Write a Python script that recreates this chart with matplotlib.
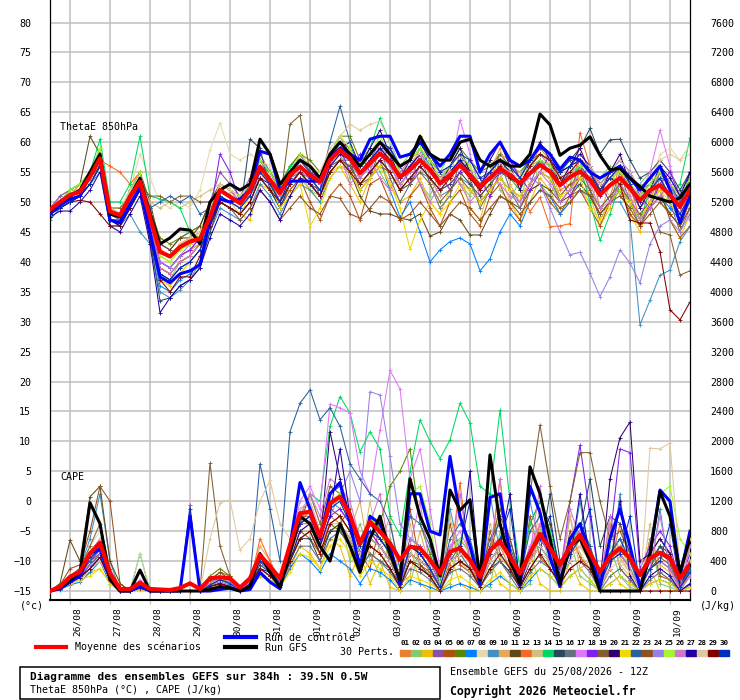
import numpy as np
import matplotlib
matplotlib.use("Agg")
import matplotlib.pyplot as plt
from matplotlib.transforms import ScaledTranslation
from matplotlib.patches import Rectangle
from matplotlib.lines import Line2D

plt.rcParams['font.family'] = ['DejaVu Sans Mono', 'DejaVu Sans']

# time axis: GEFS run 25/08 12Z, every 6h up to 384h
hours = np.arange(0, 385, 6)
day_ticks = np.arange(12, 384, 24)
day_labels = ['26/08', '27/08', '28/08', '29/08', '30/08', '31/08', '01/09', '02/09',
              '03/09', '04/09', '05/09', '06/09', '07/09', '08/09', '09/09', '10/09']

member_colors = ['#e88030', '#88c870', '#f0c000', '#8850a8', '#b05010', '#588800',
                 '#0080ff', '#e8d8b0', '#4090c0', '#e8a858', '#604818', '#f86820',
                 '#d0c080', '#00d860', '#284860', '#687078', '#e078f8', '#8020f0',
                 '#806030', '#300070', '#f0d800', '#2860a0', '#905020', '#9880e8',
                 '#a0f830', '#d078d0', '#2000a0', '#e0c8a0', '#800000', '#0030c0']

# ThetaE 850hPa (degC)
theta_mean = [48.7, 50.0, 51.2, 51.7, 54.2, 57.3, 48.4, 47.8, 50.9, 53.4,
              47.5, 41.7, 40.9, 42.5, 43.4, 43.9, 47.5, 52.0, 50.9, 49.8,
              52.0, 55.9, 53.7, 51.5, 54.5, 55.9, 54.5, 53.4, 57.0, 58.7,
              57.3, 54.8, 56.5, 58.1, 56.7, 54.2, 55.4, 57.0, 55.4, 53.1,
              54.5, 56.2, 54.5, 52.6, 54.0, 55.6, 54.5, 53.1, 54.8, 56.2,
              55.1, 52.8, 54.2, 55.1, 53.7, 51.2, 52.8, 54.0, 52.3, 50.3,
              52.0, 52.8, 51.2, 49.2, 52.0]
theta_ctrl = [48.0, 49.5, 50.5, 51.0, 54.5, 57.5, 47.0, 46.5, 49.5, 52.5,
              45.0, 37.5, 36.5, 38.0, 38.5, 39.5, 47.0, 50.5, 50.0, 50.5,
              52.0, 58.5, 58.0, 52.0, 53.5, 53.5, 53.5, 53.5, 57.5, 59.0,
              58.0, 57.0, 60.5, 61.0, 61.0, 57.5, 58.0, 60.0, 58.0, 56.0,
              58.0, 61.0, 61.0, 55.0, 58.0, 60.0, 57.0, 56.0, 57.0, 59.5,
              58.0, 55.5, 57.5, 57.0, 55.0, 54.0, 55.0, 56.0, 54.0, 52.0,
              54.0, 56.0, 52.0, 46.5, 51.0]
theta_gfs = [48.5, 50.0, 51.0, 52.0, 55.0, 58.0, 48.0, 47.5, 51.0, 54.0,
             48.0, 43.0, 44.0, 45.5, 45.3, 43.0, 50.0, 52.0, 53.0, 52.0,
             53.0, 60.5, 58.0, 53.0, 55.0, 57.0, 56.0, 54.0, 58.0, 60.0,
             58.0, 56.0, 58.0, 60.0, 58.0, 56.0, 57.0, 61.0, 58.0, 57.0,
             57.0, 60.0, 60.5, 57.0, 56.0, 57.0, 56.0, 56.0, 58.0, 64.7,
             62.9, 57.8, 59.0, 59.5, 60.9, 57.8, 55.4, 55.6, 54.0, 52.6,
             51.0, 50.5, 50.0, 50.7, 53.0]
theta_perts = [
    "48 50 51 53 55 58 49 48 51 54 | 46 40 39 41 42 43 48 53 52 50 | 53 57 54 50 54 58 56 53 58 61 | 58 54 56 59 58 53 55 59 57 52 | 53 58 56 51 53 58 57 54 56 59 | 57 52 53 57 56 49 51 56 53 47 | 50 55 52 46 50",
    "48 51 52 52 55 59 48 47 50 53 | 46 38 37 40 41 43 47 51 50 49 | 51 55 53 50 53 55 52 51 56 59 | 54 57 59 55 52 56 58 53 51 55 | 58 53 51 55 57 52 50 54 58 53 | 51 55 57 52 50 54 56 51 49 53 | 55 50 48 52 54",
    "48 50 50 51 53 56 47 47 50 52 | 45 37 36 38 40 42 46 50 49 48 | 47 53 52 49 52 54 52 50 55 56 | 53 50 54 57 53 50 51 54 50 48 | 52 55 49 47 53 55 50 47 50 54 | 52 48 50 55 51 46 49 54 48 45 | 50 53 47 44 48",
    "49 51 52 53 55 58 49 48 52 55 | 49 43 42 44 45 46 50 55 53 51 | 54 58 55 52 56 58 55 54 58 60 | 59 56 57 60 59 55 56 57 55 54 | 56 58 55 52 55 58 56 54 57 58 | 56 53 56 57 55 52 55 56 52 49 | 51 55 53 50 54",
    "48 50 51 52 54 56 48 47 51 53 | 47 40 39 41 42 44 48 52 51 50 | 52 55 53 49 52 54 50 47 51 53 | 51 47 53 54 50 47 51 53 49 46 | 50 52 48 46 51 53 49 47 52 53 | 50 48 51 52 49 46 50 52 48 46 | 50 52 47 44 46",
    "48 50 51 52 54 58 48 48 51 54 | 49 44 43 44 45 46 50 53 52 51 | 53 56 55 53 56 58 57 55 58 61 | 61 57 58 60 59 56 57 61 57 55 | 56 59 57 55 56 58 56 55 57 58 | 57 55 56 57 56 53 55 56 54 52 | 53 55 53 51 54",
    "47 49 50 51 53 56 47 46 49 52 | 44 36 35 37 38 40 46 50 49 48 | 50 54 52 49 53 55 54 52 56 57 | 56 53 55 57 52 47.5 50 45 40 42 | 43.4 44 43 38.5 40.5 45 48 46 50 52 | 51 48 50 52 51 48 50 52 50 47 | 49 51 49 47 50",
    "48 50 51 52 54 57 49 49 52 58 | 54 50 49 50 49 52 58.7 63.2 58 57 | 58 57 56 52 55 57 56 54 57 59 | 58 56 57 59 58 55 56 58 57 54 | 55 57 56 53 55 57 55 53 56 57 | 56 53 55 57 55 52 54 56 53 51 | 53 58 59 57 58",
    "48 49 50 51 53 55 46 46 48 45 | 43 35 34 35.3 37 40 45 49 48 47 | 49 53 51 48 51 53 52 50 54 56 | 55 52 54 56 55 52 53 55 54 51 | 52 54 53 50 52 54 52 50 53 55 | 54 50 52 53 51 48 50 50 47 29.5 | 33.6 37.8 38.6 43.4 45.9",
    "49 50 51 52 54 57 48 48 51 53 | 47 41 40 42 43 44 48 51 50 49 | 51 55 53 51 54 56 54 52 57 58 | 59 53 55 60 57 52 56 59 54 51 | 56 58 53 50 55 59 53 50 56 58 | 56 51 53 57 52 48 53 56 51 47 | 52 55 50 47 53",
    "49 50 52 53 61 58 49 48 52 55 | 50 43 42 44 44 46 50 53 52 50 | 52 55 53 50 53 55 53 52 55 57 | 55 51 48.5 48 48 47.3 47 48 44.3 45 | 48 47 44.5 44.5 48 51 50 49 52 53 | 52 50 51 53 51 48 50 52 50 47 | 49 51 48 46 49",
    "48 50 51 52 54 57 56 55 53 55 | 48 42 41 43 44 45 49 52 51 50 | 52 56 54 52 55 57 55 53 57 59 | 57 54 56 58 56 53 55 57 55 53 | 54 56 54 52 54 56 54 52 48.4 50.8 | 45.9 46 46.4 61.6 56 52 54 55 52 50 | 52 53 51 48 51",
    "49 50 51 52 54 56 48 48 51 53 | 50 49 50 49 50 51 52 53 52 51 | 53 55 53 51 54 55 54 53 56 58 | 55 57 54 56 58 55 53 55 57 54 | 52 54 57 54 52 54 56 55 53 55 | 57 55 52 54 56 53 51 53 55 52 | 50 52 54 51 50",
    "48 50 52 53 55 60.5 50 50 53 61 | 51 50.5 50 49 45 44 47 51 50 49 | 51 56 55 52 56 57 55 53 57 60 | 58 56 59 64 60 56 57 59 56 53 | 55 57 55 53 54 56 54 52 55 57 | 55 53 54 56 50 43.6 48 53 50 47 | 52 54 51 53 60.7",
    "48 49 50 51 53 56 47 46 49 52 | 44 33.5 34 36 37 39 45 50 49 48 | 60.5 59 52 49 53 55 53 51 55 57 | 56 53 55 57 55 52 54 56 54 52 | 53 55 53 51 53 55 54 53 56 58 | 57 55 57 59 62.3 58 60.4 60.5 57 54 | 55 57 55 52 55",
    "48 50 51 52 54 57 48 47 50 53 | 46 39 38 40 41 43 47 51 50 49 | 52 55 53 51 54 55 53 52 56 57 | 57 52 54 59 54 50 53 58 53 49 | 51 57 54 49 52 57 52 49 53 57 | 55 50 52 56 52 47 50 55 50 46 | 49 54 50 45 49",
    "49 50 51 52 55 58 49 48 51 54 | 47 40 39 41 42 44 49 53 52 50 | 53 57 55 52 55 57 55 53 58 60 | 58 55 57 59 58 54 56 58 56 53 | 55 63.7 58 52 54 56 55 53 56 57 | 56 53 55 56 54 52 54 56 53 51 | 55 62 56 50 53",
    "48 50 51 52 54 57 48 47 50 53 | 47 40 39 41 42 44 48 58 55 50 | 52 56 54 52 55 57 55 54 57 59 | 55 58 55 57 59 56 53 56 58 55 | 52 55 57 54 51 55 57 54 52 55 | 58 54 51 54 56 53 50 53 55 51 | 49 53 55 51 50",
    "49 50 51 52 54 56 49 49 51 53 | 51 51 50 51 51 50 50 52 51 50 | 51 54 52 50 63 64.5 55 51 55 57 | 56 53 54 56 55 52 53 55 53 50 | 52 54 52 50 52 54 52 51 53 55 | 54 51 53 54 52 49 51 53 50 48 | 50 45 44.5 37.8 38.5",
    "48 49 50 51 53 56 47 46 49 52 | 45 38 37 39 40 42 46 50 49 48 | 50 54 53 50 53 55 54 53 57 59 | 60 56 59 62 58 54 57 60 57 53 | 56 59 55 52 57 60 56 52 57 60 | 57 53 56 59 55 51 55 58 53 49 | 52 56 53 49 55",
    "48 50 51 52 54 57 48 47 50 53 | 46 39 38 40 41 43 47 51 50 48 | 51 55 53 49 51 53 45.9 49 54 56 | 55 52 54 56 53 49 42.1 47 50 48 | 50 53 52 50 52 54 52 51 53 55 | 54 51 52 54 49 47 50 52 50 47 | 50 52 50 47 51",
    "48 49 51 52 54 57 48 47 50 53 | 49 50 51 50 51 48 49 52 51 50 | 53 57 55 52 55 57 55 53 60 66 | 60 55 57 59 57 54 56 58 56 53 | 55 57 55 53 55 57 55 53 55 57 | 56 53 55 56 54 52 54 56 53 51 | 53 55 53 50 53",
    "48 50 51 52 55 58 49 48 51 53 | 46 39 38 40 41 43 47 50 49 47 | 49 52 50 47 49 51 49 48 51 50.6 | 48 47.3 49 51 50 47 48 50 48 46 | 48 50 49 47 49 51 50 48 50 52 | 51 49 50 52 51 48 50 51 49 46 | 48 50 48 46 49",
    "48 50 51 52 54 57 48 48 51 53 | 47 40 39 41 43 44 48 52 51 50 | 52 56 54 51 54 56 54 53 57 59 | 57 54 56 58 56 53 55 57 55 53 | 54 56 54 52 54 56 55 53 54 53 | 49 45 41.2 41.6 38.1 34.2 37.5 42 39.8 36.5 | 43 46 47 45 48",
    "48 50 52 53 55 59 49 48 52 55 | 48 41 40 42 43 45 49 53 52 51 | 53 57 55 52 55 58 56 54 58 61 | 59 56 58 61 58 55 57 59 57 54 | 56 58 56 53 55 57 55 54 56 57 | 56 54 55 56 55 52 54 55 53 51 | 53 55 53 51 54",
    "48 50 51 52 54 57 48 47 50 53 | 46 39 38 40 41 43 47 51 50 49 | 51 55 53 50 53 55 54 52 56 58 | 53 55 57 54 52 55 57 53 50 53 | 55 53 50 52 55 53 51 50 53 55 | 53 50 52 55 53 49 50 53 51 47 | 49 51 53 49 47",
    "47.5 48.5 48.5 50 52 55 46 45 48 51 | 43 31.5 34 36 37 39 44 48 47 46 | 48 52 50 47 51 54 53 51 56 58 | 57 55 57 59 57 54 56 58 56 54 | 55 57 55 53 55 57 55 53 56 58 | 57 55 56 58 56 53 55 57 55 52 | 54 56 54 51 55",
    "49 50 51 52 54 57 49 48 52 54 | 48 42 41 43 44 45 49 53 52 51 | 53 56 54 52 55 57 56 55 59 61 | 63 62 63 63.5 60 56 57 58 56 54 | 55 56 55 53 54 56 55 54 56 58 | 57 54 55 57 56 53 55 57 55 52 | 54 57 58 57 59.5",
    "48 49 50 50.3 50 48 46 46 49 52 | 44 37 35 37.5 37.5 41 46 50 49 48 | 50 54 52 50 53 55 53 51 55 57 | 55 53 55 57 55 52 54 56 54 52 | 54 56 54 52 54 56 54 53 56 58 | 57 54 55 57 55 52 54 53 47 46.5 | 46.5 41.7 32 30.3 33.3",
    "48 49 50 51 53 56 47 47 50 52 | 45 38 37 39 40 42 47 51 50 49 | 51 55 53 50 54 56 54 52 57 59 | 58 56 58 60 59 56 57 60 58 55 | 56 58 57 54 55 57 56 54 57 59 | 58 55 56 57 55 52 54 56 53 50 | 52 54 51 48 51",
]

# CAPE (J/kg)
cape_mean = [0, 58, 190, 258, 504, 646, 236, 27, 27, 111,
             27, 20, 13, 40, 102, 27, 170, 183, 170, 45,
             170, 481, 325, 170, 615, 1039, 1060, 726, 1172, 1261,
             1016, 638, 927, 793, 638, 415, 593, 571, 415, 236,
             526, 571, 415, 190, 548, 660, 459, 236, 504, 762,
             571, 348, 593, 749, 504, 258, 459, 571, 437, 214,
             437, 512, 437, 170, 361]
cape_ctrl = [0, 30, 120, 200, 500, 560, 180, 0, 0, 60,
             0, 0, 0, 0, 1000, 0, 0, 20, 40, 0,
             20, 250, 120, 30, 600, 1450, 1100, 700, 1300, 1450,
             900, 300, 1000, 900, 600, 100, 1300, 1300, 800, 750,
             1800, 1000, 600, 100, 1250, 1300, 500, 80, 1400, 1050,
             450, 60, 700, 900, 500, 50, 700, 1100, 600, 50,
             500, 1350, 1200, 200, 800]
cape_gfs = [0, 40, 150, 250, 1180, 900, 150, 0, 0, 280,
            0, 0, 0, 0, 0, 0, 20, 60, 40, 0,
            60, 500, 250, 50, 500, 1000, 900, 600, 400, 900,
            600, 250, 700, 1000, 500, 150, 1500, 1000, 700, 200,
            1350, 1080, 1220, 150, 1820, 900, 400, 100, 1660, 1300,
            700, 100, 600, 700, 400, 0, 0, 0, 0, 0,
            500, 1330, 1000, 250, 700]
cape_perts = [
    "0 50 150 200 400 600 200 0 0 80 | 0 0 0 0 0 0 100 150 120 0 | 100 400 300 100 500 900 1100 600 1000 900 | 700 300 800 600 400 100 500 400 300 50 | 400 500 300 100 400 600 300 50 400 700 | 500 200 500 700 400 100 400 500 300 50 | 300 400 300 50 200",
    "0 30 100 150 300 500 150 0 0 50 | 0 0 0 0 0 0 80 100 50 0 | 80 300 200 50 400 800 900 500 900 1000 | 400 900 500 200 700 300 100 600 200 0 | 100 700 500 100 50 800 400 0 100 900 | 300 50 700 200 100 0 600 200 50 0 | 700 100 50 0 300",
    "0 40 120 180 250 300 100 0 0 20 | 0 0 0 0 0 0 50 80 60 0 | 60 200 150 50 300 600 500 300 700 600 | 200 500 100 400 50 0 600 100 0 0 | 500 100 0 0 400 100 0 0 500 100 | 0 0 400 100 0 0 300 100 0 0 | 300 0 0 0 100",
    "0 60 200 300 500 700 250 0 0 60 | 0 0 0 0 1150 0 100 200 150 0 | 150 500 300 100 600 1100 1200 800 1300 1400 | 1000 600 900 800 600 200 700 600 400 100 | 600 700 500 200 600 700 500 200 600 800 | 600 300 700 800 600 200 500 600 400 100 | 400 500 400 100 300",
    "0 50 180 250 400 500 200 0 0 100 | 0 0 0 0 0 0 150 250 200 50 | 150 450 300 150 500 800 700 500 800 900 | 1100 500 300 900 400 150 1100 350 250 50 | 900 350 250 100 800 400 250 50 1000 450 | 300 100 800 450 300 50 900 300 150 0 | 700 200 150 0 400",
    "0 40 120 200 350 500 150 0 0 50 | 0 0 0 0 0 0 200 300 200 0 | 100 300 200 100 400 700 800 500 900 800 | 600 400 700 900 1400 1600 1900 900 500 100 | 500 600 400 150 500 700 400 100 500 800 | 600 300 500 700 500 100 400 500 300 50 | 300 400 300 50 200",
    "0 20 80 120 250 400 100 0 0 30 | 0 0 0 0 0 0 30 50 30 0 | 50 200 150 50 300 500 400 250 500 400 | 300 100 300 250 150 0 150 100 50 0 | 50 100 50 0 100 200 100 0 150 300 | 200 50 200 300 150 0 100 200 100 0 | 100 150 100 0 50",
    "0 50 200 300 600 800 300 50 0 150 | 0 0 0 0 0 0 100 150 100 0 | 100 400 250 100 500 1000 1200 700 1100 1300 | 1000 700 900 700 500 200 600 500 300 50 | 400 600 400 100 500 700 400 100 500 700 | 500 200 500 700 500 100 400 500 300 50 | 300 400 300 50 200",
    "0 60 200 300 700 1300 400 0 0 100 | 0 0 0 0 0 0 100 150 100 0 | 100 400 300 100 500 900 1000 700 1200 1100 | 900 500 800 700 500 100 500 400 300 50 | 1100 500 300 100 1300 500 300 50 1200 600 | 400 200 400 1200 400 50 300 1300 200 0 | 200 1100 200 0 100",
    "0 40 150 250 400 550 200 0 0 70 | 0 0 0 0 0 0 80 120 80 0 | 120 600 400 150 500 800 800 500 900 1000 | 800 1200 400 600 1000 100 200 800 300 50 | 400 1100 350 100 400 1200 350 50 400 1100 | 450 150 1000 300 400 50 900 450 250 0 | 700 350 250 0 700",
    "0 100 680 400 1260 1400 400 100 0 60 | 0 0 0 0 0 0 100 200 100 0 | 100 400 250 100 400 700 800 500 800 900 | 700 400 600 500 300 100 400 350 200 0 | 300 400 300 100 500 1000 700 200 900 1200 | 900 300 700 900 600 100 500 700 400 50 | 300 600 500 100 300",
    "0 50 150 250 400 600 200 0 0 100 | 0 0 0 0 0 0 100 150 100 0 | 100 700 400 100 500 900 900 600 900 1000 | 800 500 700 600 400 100 500 400 300 50 | 350 1450 300 100 400 1500 300 50 400 900 | 600 200 500 600 400 50 300 900 400 50 | 300 400 300 50 200",
    "0 30 100 150 300 400 150 0 0 50 | 0 0 0 0 0 0 50 100 50 0 | 80 300 200 80 400 700 800 500 900 900 | 700 400 1200 500 300 50 900 300 200 0 | 1000 400 250 50 900 450 300 50 900 500 | 400 100 1000 500 300 50 800 350 200 0 | 900 250 150 0 600",
    "0 50 200 300 500 600 200 0 0 500 | 0 0 0 0 0 0 100 200 100 0 | 150 500 300 150 600 1000 1300 1200 2200 2600 | 2380 1860 2130 1900 1000 750 1600 2290 2000 1770 | 2020 2510 2250 1400 1300 2420 1200 300 900 1200 | 800 300 600 900 600 100 500 700 400 50 | 400 500 400 100 300",
    "0 40 120 200 350 500 150 0 0 50 | 0 0 0 0 0 0 60 100 50 0 | 80 350 250 80 400 700 700 400 800 800 | 600 300 500 400 300 50 400 300 200 0 | 300 400 300 50 300 400 250 50 300 500 | 1300 400 600 800 1500 600 1000 900 500 100 | 400 600 400 50 250",
    "0 30 120 180 300 450 150 0 0 40 | 0 0 0 0 0 0 60 90 60 0 | 70 300 200 60 350 600 600 400 700 800 | 600 300 500 400 250 50 300 250 150 0 | 250 300 200 50 250 400 200 0 250 400 | 300 100 300 400 250 0 200 300 150 0 | 150 250 150 0 80",
    "0 60 200 300 500 700 250 0 0 150 | 0 0 0 0 0 0 100 200 150 0 | 150 500 300 100 600 1200 1400 1100 2500 2450 | 2380 1600 1300 2150 2950 2700 1500 1900 1100 300 | 600 800 500 100 500 700 500 100 600 900 | 600 200 600 800 500 100 400 600 300 50 | 400 500 400 50 250",
    "0 50 150 250 400 550 200 0 0 60 | 0 0 0 0 0 0 80 150 100 0 | 100 400 250 100 500 900 1000 600 1000 1100 | 900 500 800 600 400 100 600 500 300 50 | 500 600 400 100 500 700 400 100 500 700 | 600 200 1200 1950 1000 100 700 1900 1850 300 | 600 800 600 100 500",
    "0 60 200 300 600 900 300 0 0 80 | 0 0 0 0 0 0 1710 600 200 0 | 100 400 300 100 500 900 1300 900 1400 1300 | 1000 600 900 800 500 100 600 500 300 50 | 400 600 400 100 600 1100 700 200 1300 2220 | 1400 700 1200 1850 1850 1200 700 800 500 100 | 500 700 500 100 400",
    "0 40 150 200 350 500 200 0 0 50 | 0 0 0 0 0 0 100 150 100 0 | 100 400 250 100 500 900 1000 600 2130 1500 | 1000 600 900 700 500 100 600 500 300 50 | 500 600 400 100 500 700 400 100 500 700 | 500 200 500 700 500 100 1500 2050 2260 400 | 500 700 500 100 300",
    "0 30 100 150 200 300 100 0 0 30 | 0 0 0 0 0 0 50 80 50 0 | 50 200 150 50 250 500 450 300 600 700 | 500 200 400 300 200 0 200 150 100 0 | 150 200 100 0 150 250 100 0 200 300 | 200 50 200 300 150 0 100 200 100 0 | 100 150 100 0 50",
    "0 50 150 250 400 600 200 0 0 80 | 0 0 0 0 0 0 100 150 100 0 | 150 1700 1100 400 2130 2510 2690 2290 2450 2200 | 1700 1500 1300 1200 900 300 1000 900 600 100 | 700 900 700 200 700 900 600 200 800 1000 | 700 300 700 900 600 100 500 700 400 50 | 400 500 400 50 300",
    "0 80 300 350 800 1400 1200 100 0 100 | 0 0 0 0 0 0 150 250 150 0 | 150 500 350 150 600 1000 1000 700 1100 1000 | 800 500 700 600 400 100 500 400 300 50 | 400 500 400 100 500 700 400 100 500 800 | 600 200 500 700 500 100 400 500 300 50 | 300 450 350 50 250",
    "0 40 150 200 350 500 150 0 0 50 | 0 0 0 0 0 0 80 120 80 0 | 80 400 250 80 500 900 1000 600 1000 1300 | 1600 1200 2665 2620 1800 900 700 600 400 50 | 500 600 400 100 500 700 400 100 500 700 | 500 200 500 700 400 50 400 500 300 0 | 300 400 300 0 200",
    "0 50 150 250 450 650 200 0 0 80 | 0 0 0 0 0 0 100 150 100 0 | 100 400 300 100 500 1000 1100 700 1200 1300 | 1000 600 1000 800 500 100 1300 1400 900 100 | 500 700 500 100 500 700 400 100 500 800 | 600 200 500 700 500 100 400 600 300 50 | 500 1300 1400 700 500",
    "0 60 180 250 500 700 250 0 0 80 | 0 0 0 0 0 0 100 180 120 0 | 120 450 300 100 500 1000 1300 1000 1500 1400 | 1200 700 900 1300 500 100 600 1200 300 50 | 400 1300 400 100 500 1500 400 100 500 1400 | 500 200 1100 700 500 100 1000 500 300 50 | 300 1000 300 50 600",
    "0 30 120 180 300 450 150 0 0 40 | 0 0 0 0 0 0 60 100 60 0 | 80 300 250 80 400 800 900 600 1000 1900 | 1000 500 700 600 400 100 500 400 300 50 | 400 500 1600 100 400 600 1300 50 400 600 | 400 150 400 1300 400 50 300 1200 200 0 | 200 300 200 0 100",
    "0 50 150 250 500 700 250 0 0 500 | 0 0 0 0 0 0 700 1180 1220 550 | 700 1200 1480 900 700 1100 1200 800 1300 1200 | 900 500 700 600 400 100 500 400 300 50 | 400 500 400 100 400 600 400 100 400 600 | 400 150 400 600 400 50 300 400 250 0 | 1910 1900 1980 300 400",
    "0 40 120 200 300 450 150 0 0 40 | 0 0 0 0 0 0 60 100 60 0 | 80 300 200 80 400 700 800 500 900 1000 | 800 400 600 500 300 50 400 300 200 0 | 300 400 300 50 300 500 300 50 300 500 | 300 100 300 400 300 0 0 0 0 0 | 0 0 0 0 0",
    "0 50 150 250 450 550 200 0 0 60 | 0 0 0 0 1100 0 80 150 100 0 | 100 400 300 100 500 900 1000 700 1100 1200 | 900 600 800 700 500 100 600 500 300 50 | 500 600 1200 100 500 700 1100 100 500 700 | 1000 200 500 700 1100 100 400 500 1000 50 | 300 400 900 50 250",
]


def parse(s):
    vals = np.array(s.replace('|', ' ').split(), dtype=float)
    assert len(vals) == len(hours), len(vals)
    return vals


W, H = 740, 700


def px(x, y):
    return x / W, 1 - y / H


fig = plt.figure(figsize=(7.4, 7.0), dpi=100)
ax = fig.add_axes([50 / W, 100 / H, 640 / W, 600 / H])

t_lo, t_hi = -16.5, 83.76
ax.set_xlim(0, 384)
ax.set_ylim(t_lo, t_hi)
ax.set_yticks(np.arange(-15, 81, 5))
ax.set_xticks(day_ticks)
ax.set_xticklabels(day_labels)
ax.grid(True, color='#c0c0c0', lw=1.1)
ax.set_axisbelow(True)
ax.tick_params(axis='y', length=0, pad=13.5, labelsize=7.2)
ax.tick_params(axis='x', length=3, color='#c0c0c0', pad=2, labelsize=6.8,
               labelrotation=90)
for lab in ax.get_xticklabels():
    lab.set_transform(lab.get_transform() + ScaledTranslation(0.07, 0, fig.dpi_scale_trans))
ax.spines['top'].set_visible(False)
ax.spines['left'].set_linewidth(0.9)
ax.spines['right'].set_linewidth(0.9)
ax.spines['bottom'].set_linewidth(1.5)

ax2 = ax.twinx()
ax2.set_ylim((t_lo + 15) * 80, (t_hi + 15) * 80)
ax2.set_yticks(np.arange(0, 7601, 400))
ax2.tick_params(axis='y', length=0, pad=14.4, labelsize=7.2)
for sp in ax2.spines.values():
    sp.set_visible(False)

for s, c in zip(theta_perts, member_colors):
    ax.plot(hours, parse(s), color=c, lw=0.75, marker='+', ms=3, mew=0.6, zorder=2)
for s, c in zip(cape_perts, member_colors):
    ax2.plot(hours, parse(s), color=c, lw=0.75, marker='+', ms=3, mew=0.6, zorder=2)

ax.plot(hours, theta_ctrl, color='#0000ff', lw=2.2, zorder=3)
ax.plot(hours, theta_gfs, color='black', lw=2.2, zorder=3)
ax.plot(hours, theta_mean, color='#ff0000', lw=3, zorder=4)
ax2.plot(hours, cape_ctrl, color='#0000ff', lw=2.2, zorder=3)
ax2.plot(hours, cape_gfs, color='black', lw=2.2, zorder=3)
ax2.plot(hours, cape_mean, color='#ff0000', lw=3, zorder=4)

fs = 7.2
fig.text(*px(60, 127), 'ThetaE 850hPa', fontsize=fs, va='center')
fig.text(*px(60, 477), 'CAPE', fontsize=fs, va='center')
fig.text(*px(20, 606), '(°c)', fontsize=fs, va='center')
fig.text(*px(700, 606), '(J/kg)', fontsize=fs, va='center')

# legend
fig.add_artist(Line2D([36 / W, 66 / W], [1 - 647 / H] * 2, color='#ff0000', lw=3))
fig.text(*px(75, 647), 'Moyenne des scénarios', fontsize=fs, va='center')
fig.add_artist(Line2D([225 / W, 256 / W], [1 - 637 / H] * 2, color='#0000ff', lw=3))
fig.text(*px(265, 638), 'Run de contrôle', fontsize=fs, va='center')
fig.add_artist(Line2D([225 / W, 256 / W], [1 - 647 / H] * 2, color='black', lw=3))
fig.text(*px(265, 648), 'Run GFS', fontsize=fs, va='center')
fig.text(*px(340, 652), '30 Perts.', fontsize=fs, va='center')
for i, c in enumerate(member_colors):
    x0 = 400 + 11 * i
    fig.add_artist(Rectangle(px(x0, 656), 10 / W, 6 / H, color=c))
    fig.text(*px(x0 + 5, 643), '%02d' % (i + 1), fontsize=5.3, fontweight='bold',
             ha='center', va='center')

# title box
fig.add_artist(Rectangle(px(20, 699), 420 / W, 32 / H, fill=False, lw=1.1, ec='black'))
fig.text(*px(30, 677), 'Diagramme des ensembles GEFS sur 384h : 39.5N 0.5W',
         fontsize=8, fontweight='bold', va='center')
fig.text(*px(30, 690), 'ThetaE 850hPa (°C) , CAPE (J/kg)', fontsize=fs, va='center')
fig.text(*px(450, 672), 'Ensemble GEFS du 25/08/2026 - 12Z', fontsize=fs, va='center')
fig.text(*px(450, 691), 'Copyright 2026 Meteociel.fr', fontsize=8.3,
         fontweight='bold', va='center')

fig.savefig('out.png', dpi=100)
